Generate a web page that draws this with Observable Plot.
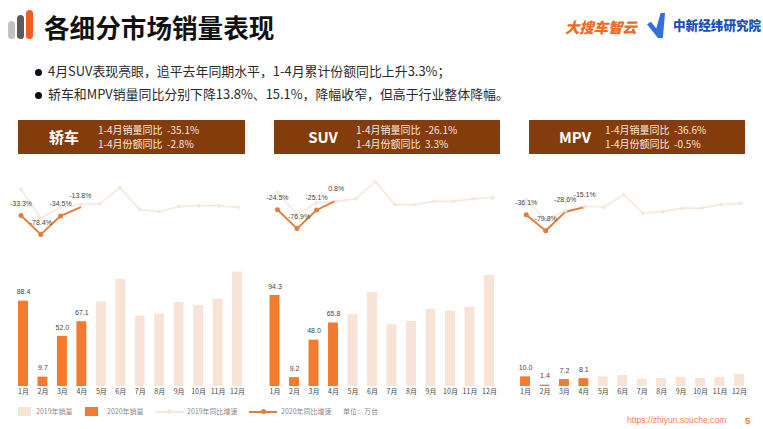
<!DOCTYPE html>
<html lang="zh">
<head>
<meta charset="utf-8">
<script src="https://cdn.jsdelivr.net/npm/d3@7"></script>
<script src="https://cdn.jsdelivr.net/npm/@observablehq/plot@0.6"></script>
<style>
html,body{margin:0;padding:0;background:#fff;}
#page{position:relative;width:763px;height:429px;overflow:hidden;font-family:"Noto Sans CJK SC","Noto Sans",sans-serif;color:#222;}
#page>*{position:absolute;}
#page svg{background:transparent;overflow:visible;}
.nw{white-space:nowrap;line-height:1;}
.bar{border-radius:3.5px;}
.head{background:#843c0c;top:120px;height:34px;color:#fff;}
.head .nm{position:absolute;top:8px;font-size:15px;font-weight:700;line-height:18px;transform:translateX(-50%);white-space:nowrap;}
.head .ln{position:absolute;font-size:10px;line-height:12px;white-space:nowrap;color:#fbe9dc;}
.leg{font-size:7px;color:#8a8a8a;top:407px;line-height:9px;white-space:nowrap;}
</style>
</head>
<body>
<div id="page"></div>
<script>
const months = ["1月","2月","3月","4月","5月","6月","7月","8月","9月","10月","11月","12月"];

const sedanName = "轿车";
const sedanSales2020 = [88.4, 9.7, 52.0, 67.1];
const sedanSales2019 = [null, null, null, null, 87.4, 111, 72.8, 75, 87, 84, 90.5, 118.6];
const sedanGrowth2020 = [-33.3, -78.4, -34.5, -13.8];
const sedanGrowth2019 = [29, -40, -14, -7, -5, 33, -19, -24, -12, -10, -10, -14];
const sedanStats = ["1-4月销量同比  -35.1%", "1-4月份额同比  -2.8%"];

const suvName = "SUV";
const suvSales2020 = [94.3, 9.2, 48.0, 65.8];
const suvSales2019 = [null, null, null, null, 74.6, 97.4, 64, 67.4, 80, 78, 82, 115];
const suvGrowth2020 = [-24.5, -76.9, -25.1, 0.8];
const suvGrowth2019 = [24, -38, -5, -1, 6, 54, -10, -10, -1, -1, 6, 9];
const suvStats = ["1-4月销量同比  -26.1%", "1-4月份额同比  3.3%"];

const mpvName = "MPV";
const mpvSales2020 = [10.0, 1.4, 7.2, 8.1];
const mpvSales2019 = [null, null, null, null, 10, 11.4, 7.3, 8.3, 9.5, 8.3, 9.5, 12.5];
const mpvGrowth2020 = [-36.1, -79.8, -28.6, -15.1];
const mpvGrowth2019 = [5, -50, -25, -13, -15, 19, -32, -27, -18, -18, -8, -5];
const mpvStats = ["1-4月销量同比  -36.6%", "1-4月份额同比  -0.5%"];

const titleText = "各细分市场销量表现";
const bullets = ["4月SUV表现亮眼，追平去年同期水平，1-4月累计份额同比上升3.3%；", "轿车和MPV销量同比分别下降13.8%、15.1%，降幅收窄，但高于行业整体降幅。"];
const legendLabels = ["2019年销量", "2020年销量", "2019年同比增速", "2020年同比增速", "单位：万台"];

const ORANGE = "#f37b2f", PALE = "#f8e4d7", LINE_OR = "#e27d3c", PALE_LINE = "#f7e8de";
const page = document.getElementById("page");

function el(style, html, cls) {
  const d = document.createElement("div");
  d.style.cssText = style;
  if (cls) d.className = cls;
  if (html != null) d.innerHTML = html;
  page.appendChild(d);
  return d;
}

// Title block
el("left:8px;top:21px;width:7px;height:18px;background:#c2c2c2", null, "bar");
el("left:17px;top:15px;width:7px;height:24px;background:#5c5a5a", null, "bar");
el("left:26px;top:10px;width:7px;height:29px;background:#f25c1f", null, "bar");
el("left:44px;top:14px;font-size:25.6px;font-weight:700;color:#111", titleText, "nw");

// Bullets
bullets.forEach((t, i) => {
  const y = [72, 95][i];
  el(`left:34.5px;top:${y - 3.5}px;width:7px;height:7px;border-radius:50%;background:#0c0c1c`);
  el(`left:48px;top:${y - 7}px;font-size:12.9px;color:#2a2a2a`, t, "nw");
});

// Logos
el("left:565px;top:20px;font-size:14.5px;font-weight:900;font-style:italic;color:#ee6a25;letter-spacing:-.2px", "大搜车智云", "nw");
el("left:647px;top:13px;width:22px;height:25px;background:#2f6fe0;clip-path:polygon(0 45%,18% 35%,42% 62%,62% 0,82% 0,72% 100%,50% 100%)");
el("left:673px;top:19px;font-size:12.6px;font-weight:900;color:#1b4fb5", "中新经纬研究院", "nw");

// Panels
const panels = [
  {name: sedanName, stats: sedanStats, s20: sedanSales2020, s19: sedanSales2019, g20: sedanGrowth2020, g19: sedanGrowth2019,
   c1: 23, c12: 237, lx: [20.5, 238], box: [18, 245], nameX: 64, statX: 98, yLine: [-116.7, 73.8], solid: 3, labelDx: [0, 0, 0, 0]},
  {name: suvName, stats: suvStats, s20: suvSales2020, s19: suvSales2019, g20: suvGrowth2020, g19: suvGrowth2019,
   c1: 274.5, c12: 489, lx: [277, 492], box: [274, 500], nameX: 323, statX: 356, yLine: [-138, 85], solid: 3, labelDx: [0, 2, 0, 0]},
  {name: mpvName, stats: mpvStats, s20: mpvSales2020, s19: mpvSales2019, g20: mpvGrowth2020, g19: mpvGrowth2019,
   c1: 525, c12: 739, lx: [525.7, 740], box: [529, 745], nameX: 575, statX: 605, yLine: [-134, 85], solid: 2, labelDx: [0, 0, 0, 0]}
];

const W = 763;
panels.forEach(p => {
  // header
  const h = el(`left:${p.box[0]}px;width:${p.box[1] - p.box[0]}px`, null, "head");
  h.innerHTML = `<div class="nm" style="left:${p.nameX - p.box[0]}px">${p.name}</div>` +
    p.stats.map((s, i) => `<div class="ln" style="left:${p.statX - p.box[0]}px;top:${[4, 18][i]}px">${s.replace(/  /g, "&nbsp;&nbsp;")}</div>`).join("");

  const step = (p.c12 - p.c1) / 11;
  const xRange = [p.c1 - step / 2, p.c12 + step / 2];
  const xOpt = {type: "band", domain: months, range: xRange, paddingInner: 0.49, paddingOuter: 0.245, align: 0.5, round: false, axis: null};

  // growth lines
  const all19 = months.map((m, i) => ({m, v: p.g19[i]}));
  const all20 = p.g20.map((v, i) => ({m: months[i], v, dx: p.labelDx[i]}));
  const linePlot = Plot.plot({
    width: W, height: 80, margin: 0,
    style: {background: "transparent"},
    x: {type: "point", domain: months, range: p.lx, padding: 0, round: false, axis: null},
    y: {domain: p.yLine, range: [80, 0], axis: null},
    marks: [
      Plot.line(all19, {x: "m", y: "v", stroke: PALE_LINE, strokeWidth: 1.6}),
      Plot.line(all20, {x: "m", y: "v", stroke: LINE_OR, strokeWidth: 1.9}),
      Plot.dot(all19, {x: "m", y: "v", r: 1.9, fill: "#f7e6da"}),
      Plot.dot(all20.slice(0, p.solid), {x: "m", y: "v", r: 2.5, fill: LINE_OR}),
      ...all20.map(d => Plot.text([d], {x: "m", y: "v", text: q => q.v.toFixed(1) + "%", dy: -12, dx: d.dx,
        fontSize: 7, fill: "#444", fontFamily: "Liberation Sans, Arial, sans-serif"}))
    ]
  });
  linePlot.style.cssText = "position:absolute;left:0;top:170px;";
  page.appendChild(linePlot);

  // bars
  const rows19 = months.map((m, i) => ({m, v: p.s19[i]})).filter(d => d.v != null);
  const rows20 = p.s20.map((v, i) => ({m: months[i], v}));
  const barPlot = Plot.plot({
    width: W, height: 140, marginTop: 0, marginBottom: 14, marginLeft: 0, marginRight: 0,
    style: {background: "transparent"},
    x: {...xOpt},
    y: {domain: [0, 130.5], axis: null},
    marks: [
      Plot.barY(rows19, {x: "m", y: "v", fill: PALE}),
      Plot.barY(rows20, {x: "m", y: "v", fill: ORANGE}),
      Plot.text(rows20, {x: "m", y: "v", text: d => d.v.toFixed(1), dy: -9, fontSize: 7, fill: "#444",
        fontFamily: "Liberation Sans, Arial, sans-serif"}),
      Plot.axisX({tickSize: 0, tickPadding: 3, fontSize: 7, color: "#444", label: null,
        fontFamily: "Noto Sans CJK SC, sans-serif", anchor: "bottom"})
    ]
  });
  barPlot.style.cssText = "position:absolute;left:0;top:260px;";
  page.appendChild(barPlot);
});

// Legend
el(`left:18px;top:407px;width:13px;height:9px;background:${PALE}`);
el("left:36px", legendLabels[0], "leg");
el(`left:85px;top:407px;width:13px;height:9px;background:${ORANGE}`);
el("left:107px", legendLabels[1], "leg");
el(`left:155px;top:411px;width:29px;height:1.5px;background:${PALE_LINE}`);
el("left:167px;top:409px;width:5px;height:5px;border-radius:50%;background:#f7e6da");
el("left:187px", legendLabels[2], "leg");
el(`left:249px;top:411px;width:28px;height:1.5px;background:${LINE_OR}`);
el(`left:260.5px;top:409px;width:5px;height:5px;border-radius:50%;background:${LINE_OR}`);
el("left:281px", legendLabels[3], "leg");
el("left:343px", legendLabels[4], "leg");

// Footer
el("left:627px;top:415.5px;font-size:8.6px;color:#f27d5a;font-family:'Liberation Sans',Arial,sans-serif", "https://zhiyun.souche.com", "nw");
el("left:745px;top:415.5px;font-size:9.5px;font-weight:700;color:#ee7d31;font-family:'Liberation Sans',Arial,sans-serif", "5", "nw");
</script>
</body>
</html>
